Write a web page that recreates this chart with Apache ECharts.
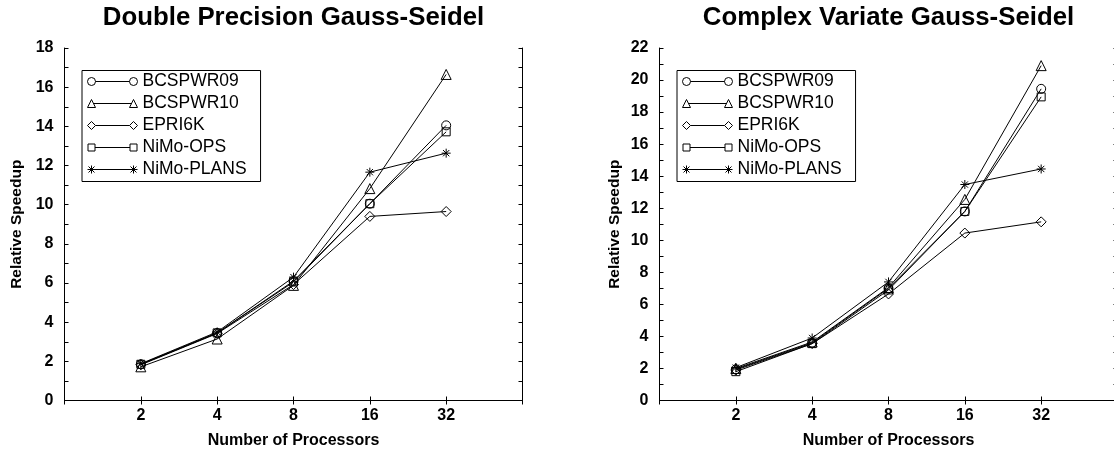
<!DOCTYPE html>
<html>
<head>
<meta charset="utf-8">
<script src="https://cdn.jsdelivr.net/npm/echarts@6/dist/echarts.min.js"></script>
<style>
html,body{margin:0;padding:0;background:#fff;}
#chart{width:1114px;height:452px;}
</style>
</head>
<body>
<div id="chart"></div>
<script>
// ---- data ----
const processors = [2, 4, 8, 16, 32];
const seriesNames = ['BCSPWR09', 'BCSPWR10', 'EPRI6K', 'NiMo-OPS', 'NiMo-PLANS'];
const titles = ['Double Precision Gauss-Seidel', 'Complex Variate Gauss-Seidel'];
const xAxisName = 'Number of Processors';
const yAxisName = 'Relative Speedup';
const yMax = [18, 22];

// Double Precision
const dp_BCSPWR09  = [1.85, 3.45, 6.10, 10.05, 14.05];
const dp_BCSPWR10  = [1.72, 3.14, 5.88, 10.82, 16.65];
const dp_EPRI6K    = [1.82, 3.42, 5.92, 9.40, 9.65];
const dp_NiMoOPS   = [1.85, 3.45, 6.05, 10.05, 13.72];
const dp_NiMoPLANS = [1.88, 3.50, 6.30, 11.66, 12.63];

// Complex Variate
const cv_BCSPWR09  = [1.95, 3.60, 7.00, 11.80, 19.45];
const cv_BCSPWR10  = [2.00, 3.65, 7.05, 12.55, 20.90];
const cv_EPRI6K    = [1.90, 3.55, 6.65, 10.45, 11.15];
const cv_NiMoOPS   = [1.80, 3.55, 6.90, 11.80, 18.95];
const cv_NiMoPLANS = [2.05, 3.90, 7.40, 13.48, 14.45];

const panels = [
  [dp_BCSPWR09, dp_BCSPWR10, dp_EPRI6K, dp_NiMoOPS, dp_NiMoPLANS],
  [cv_BCSPWR09, cv_BCSPWR10, cv_EPRI6K, cv_NiMoOPS, cv_NiMoPLANS]
];

// ---- styles ----
const FONT = "'Liberation Sans', Arial, Helvetica, sans-serif";
const symbolPaths = [
  'path://M0,5 A5,5 0 1,1 10,5 A5,5 0 1,1 0,5 Z',
  'path://M5,0 L10,10 L0,10 Z',
  'path://M5,0 L10,5 L5,10 L0,5 Z',
  'path://M0,0 L10,0 L10,10 L0,10 Z',
  'path://M0,5 L10,5 M5,0 L5,10 M1.5,1.5 L8.5,8.5 M1.5,8.5 L8.5,1.5'
];
const symbolSizes = [9, 10, 10, 8, 9];
const legendIcons = [
  'path://M0,4 A4,4 0 1,1 8,4 A4,4 0 1,1 0,4 Z M8,4 L42,4 M42,4 A4,4 0 1,1 50,4 A4,4 0 1,1 42,4 Z',
  'path://M0,8 L4,0 L8,8 Z M6,4 L44,4 M42,8 L46,0 L50,8 Z',
  'path://M0,4 L4,0 L8,4 L4,8 Z M8,4 L42,4 M42,4 L46,0 L50,4 L46,8 Z',
  'path://M0.5,0.5 L7.5,0.5 L7.5,7.5 L0.5,7.5 Z M7.5,4 L42.5,4 M42.5,0.5 L49.5,0.5 L49.5,7.5 L42.5,7.5 Z M0,0 M50,8',
  'path://M0,4 L50,4 M4,0 L4,8 M1,1 L7,7 M1,7 L7,1 M46,0 L46,8 M43,1 L49,7 M43,7 L49,1 M0,0 M50,8'
];

const gridLeft = [64.5, 659.5];
const gridW = 458;
const gridTop = 48;
const gridH = 352.5;

const grids = [], xAxes = [], yAxes = [], series = [], legends = [], titleArr = [];

for (let g = 0; g < 2; g++) {
  grids.push({left: gridLeft[g], top: gridTop, width: gridW, height: gridH, show: false,
              containLabel: false, outerBoundsMode: 'none'});
  const tickStyle = {show: true, inside: true, length: 4, lineStyle: {color: '#000', width: 1}};
  const lineStyle = {show: true, lineStyle: {color: '#000', width: 1}};
  xAxes.push({
    gridIndex: g, type: 'log', logBase: 2, min: 1, max: 64, position: 'bottom',
    axisLine: lineStyle, axisTick: tickStyle, splitLine: {show: false},
    axisLabel: {
      color: '#000', fontFamily: FONT, fontWeight: 'bold', fontSize: 16, margin: 7,
      formatter: v => { const r = Math.round(v); return processors.indexOf(r) >= 0 ? String(r) : ''; }
    },
    name: xAxisName, nameLocation: 'middle', nameGap: 32,
    nameTextStyle: {color: '#000', fontFamily: FONT, fontWeight: 'bold', fontSize: 16}
  });
  xAxes.push({
    gridIndex: g, type: 'log', logBase: 2, min: 1, max: 64, position: 'top',
    axisLine: lineStyle, axisTick: tickStyle, splitLine: {show: false}, axisLabel: {show: false}
  });
  yAxes.push({
    gridIndex: g, type: 'value', min: 0, max: yMax[g], interval: 2, position: 'left',
    axisLine: lineStyle, axisTick: tickStyle,
    minorTick: {show: true, splitNumber: 2, length: 4, lineStyle: {color: '#000', width: 1}},
    splitLine: {show: false},
    axisLabel: {color: '#000', fontFamily: FONT, fontWeight: 'bold', fontSize: 16, margin: 11},
    name: yAxisName, nameLocation: 'middle', nameGap: g === 0 ? 40 : 37,
    nameTextStyle: {color: '#000', fontFamily: FONT, fontWeight: 'bold', fontSize: 15.5}
  });
  yAxes.push({
    gridIndex: g, type: 'value', min: 0, max: yMax[g], interval: 2, position: 'right',
    axisLine: lineStyle, axisTick: tickStyle,
    minorTick: {show: true, splitNumber: 2, length: 4, lineStyle: {color: '#000', width: 1}},
    splitLine: {show: false}, axisLabel: {show: false}
  });
  titleArr.push({
    text: titles[g], left: gridLeft[g] + gridW / 2, top: 5, textAlign: 'center', padding: 0,
    textStyle: {color: '#000', fontFamily: FONT, fontWeight: 'bold', fontSize: 25.8}
  });
  legends.push({
    orient: 'vertical', left: g === 0 ? 82 : 677, top: 70.5,
    itemWidth: 50, itemHeight: 8, itemGap: 4,
    padding: [2, 14, 3, 5],
    borderColor: '#000', borderWidth: 1, backgroundColor: '#fff',
    selectedMode: false,
    itemStyle: {color: 'transparent', borderColor: '#000', borderWidth: 1},
    textStyle: {color: '#000', fontFamily: FONT, fontSize: 17.5, lineHeight: 17},
    data: seriesNames.map((n, i) => ({name: n, icon: legendIcons[i]}))
  });
  panels[g].forEach((vals, i) => {
    series.push({
      name: seriesNames[i], type: 'line',
      xAxisIndex: g * 2, yAxisIndex: g * 2,
      data: processors.map((p, k) => [p, vals[k]]),
      symbol: symbolPaths[i], symbolSize: symbolSizes[i],
      itemStyle: {color: 'transparent', borderColor: '#000', borderWidth: 1},
      lineStyle: {color: '#000', width: 1},
      animation: false, silent: true
    });
  });
}

const chart = echarts.init(document.getElementById('chart'), null, {renderer: 'canvas'});
chart.setOption({
  backgroundColor: '#fff',
  animation: false,
  title: titleArr,
  legend: legends,
  grid: grids,
  xAxis: xAxes,
  yAxis: yAxes,
  series: series
});
</script>
</body>
</html>
